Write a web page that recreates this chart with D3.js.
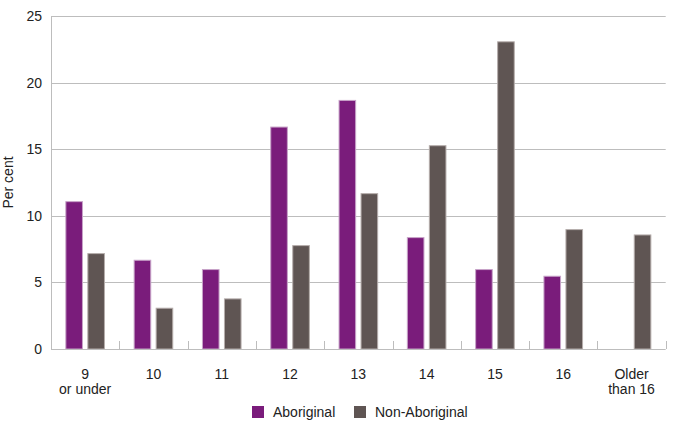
<!DOCTYPE html>
<html>
<head>
<meta charset="utf-8">
<script src="https://cdn.jsdelivr.net/npm/d3@7"></script>
<style>
  html, body { margin: 0; padding: 0; background: #fff; }
  svg { display: block; font-family: "Liberation Sans", Arial, sans-serif; }
</style>
</head>
<body>
<svg id="chart" width="675" height="423"></svg>
<script>
const categories = [["9", "or under"], ["10"], ["11"], ["12"], ["13"], ["14"], ["15"], ["16"], ["Older", "than 16"]];
const seriesNames = ["Aboriginal", "Non-Aboriginal"];
const aboriginal = [11.1, 6.7, 6.0, 16.7, 18.7, 8.4, 6.0, 5.5, null];
const nonAboriginal = [7.2, 3.1, 3.8, 7.8, 11.7, 15.3, 23.1, 9.0, 8.6];
const yTicks = [0, 5, 10, 15, 20, 25];
const colors = ["#7a1c7b", "#5f5553"];
const strokes = ["#c7a3c8", "#b5adab"];

(function () {
const svg = d3.select("#chart");
const mLeft = 51, mRight = 665.7, mTop = 16, mBottom = 349;

const keys = categories.map((c, i) => i);
const x0 = d3.scaleBand().domain(keys).range([mLeft, mRight]).paddingInner(0.42).paddingOuter(0.21);
const x1 = d3.scaleBand().domain(seriesNames).range([0, x0.bandwidth()]).paddingInner(0.2);
const y = d3.scaleLinear().domain([0, 25]).range([mBottom, mTop]);

// gridlines
svg.append("g").selectAll("line").data(yTicks.filter(d => d > 0)).join("line")
  .attr("x1", mLeft).attr("x2", mRight)
  .attr("y1", d => Math.round(y(d)) + 0.5).attr("y2", d => Math.round(y(d)) + 0.5)
  .attr("stroke", "#bdbdbd").attr("stroke-width", 1);

// y axis line
svg.append("line").attr("x1", mLeft + 0.5).attr("x2", mLeft + 0.5)
  .attr("y1", mTop).attr("y2", mBottom).attr("stroke", "#bdbdbd");

// y tick labels
svg.append("g").selectAll("text").data(yTicks).join("text")
  .attr("x", 42).attr("y", d => y(d)).attr("dy", "0.36em")
  .attr("text-anchor", "end").attr("font-size", 14).attr("fill", "#222")
  .text(d => d);

// y title
svg.append("text").attr("transform", `translate(13,${(mTop + mBottom) / 2}) rotate(-90)`)
  .attr("text-anchor", "middle").attr("font-size", 14).attr("fill", "#222").text("Per cent");

// bars
const data = [aboriginal, nonAboriginal];
seriesNames.forEach((name, si) => {
  svg.append("g").selectAll("rect").data(keys.filter(i => data[si][i] != null)).join("rect")
    .attr("x", i => x0(i) + x1(name) + 0.5)
    .attr("y", i => y(data[si][i]) + 0.5)
    .attr("width", x1.bandwidth() - 1)
    .attr("height", i => y(0) - y(data[si][i]) - 0.5)
    .attr("fill", colors[si]).attr("stroke", strokes[si]).attr("stroke-width", 1);
});

// x axis line
svg.append("line").attr("x1", mLeft).attr("x2", mRight)
  .attr("y1", mBottom + 0.5).attr("y2", mBottom + 0.5).attr("stroke", "#bdbdbd");

// x boundary ticks (inside, upward)
const boundaryPos = d3.range(1, categories.length + 1).map(k => mLeft + k * x0.step());
svg.append("g").selectAll("line").data(boundaryPos).join("line")
  .attr("x1", d => Math.round(d) + 0.5).attr("x2", d => Math.round(d) + 0.5)
  .attr("y1", mBottom).attr("y2", mBottom - 8)
  .attr("stroke", "#bdbdbd");

// x labels
const xl = svg.append("g").selectAll("text").data(keys).join("text")
  .attr("x", i => x0(i) + x0.bandwidth() / 2)
  .attr("y", 379)
  .attr("text-anchor", "middle").attr("font-size", 14).attr("fill", "#222");
xl.each(function(i) {
  const t = d3.select(this);
  categories[i].forEach((line, li) => {
    t.append("tspan").attr("x", x0(i) + x0.bandwidth() / 2).attr("dy", li === 0 ? 0 : 15).text(line);
  });
});

// legend
const legendItems = [{ name: "Aboriginal", x: 252 }, { name: "Non-Aboriginal", x: 354 }];
const lg = svg.append("g").selectAll("g").data(legendItems).join("g")
  .attr("transform", d => `translate(${d.x},406)`);
lg.append("rect").attr("width", 12).attr("height", 12)
  .attr("fill", (d, i) => colors[i]);
lg.append("text").attr("x", 21).attr("y", 11).attr("font-size", 14).attr("fill", "#222")
  .text(d => d.name);
})();
</script>
</body>
</html>
